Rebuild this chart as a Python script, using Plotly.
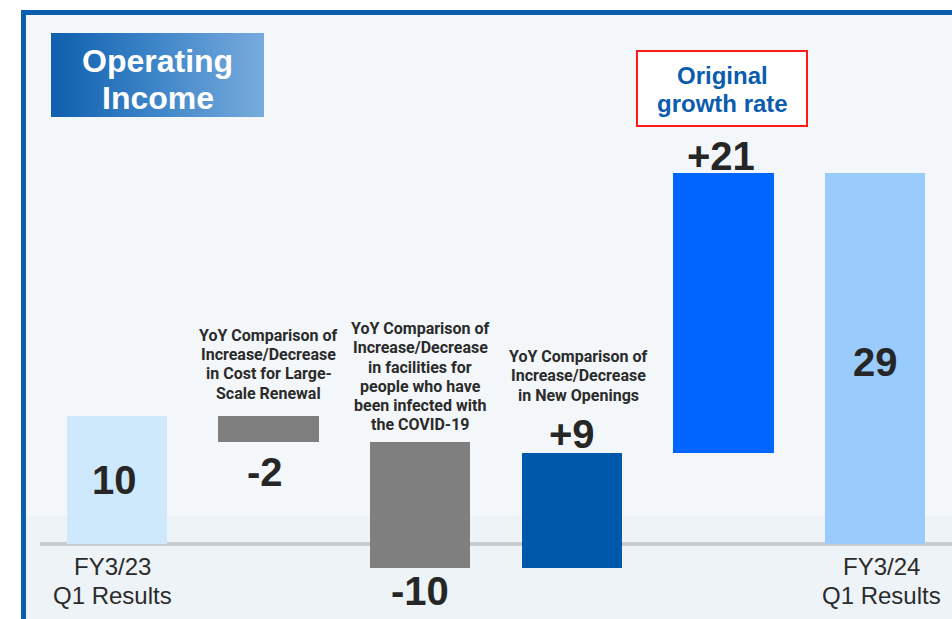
import plotly.graph_objects as go

# ---------------- data ----------------
categories = ["FY3/23 Q1 Results", "Large-Scale Renewal", "COVID-19 facilities",
              "New Openings", "Original growth rate", "FY3/24 Q1 Results"]
start_value = 10.0
changes = [-2.0, -9.9, 9.0, 21.9]
end_value = 29.0
value_labels = ["10", "-2", "-10", "+9", "+21", "29"]
axis_labels = ["FY3/23<br>Q1 Results", "", "", "", "", "FY3/24<br>Q1 Results"]
descriptions = [
    "",
    "YoY Comparison of<br>Increase/Decrease<br>in Cost for Large-<br>Scale Renewal",
    "YoY Comparison of<br>Increase/Decrease<br>in facilities for<br>people who have<br>been infected with<br>the COVID-19",
    "YoY Comparison of<br>Increase/Decrease<br>in New Openings",
    "",
    "",
]
title_text = "Operating<br>Income"
callout_text = "Original<br>growth rate"

# ---------------- styling ----------------
W, H = 952, 619
bar_colors = ["#cde9fb", "#7f7f7f", "#7f7f7f", "#0058aa", "#0066ff", "#9acbfd"]
text_dark = "#262626"
border_blue = "#0b5db0"

def px(x):
    return x / W

def py(y):
    return 1 - y / H

# build waterfall geometry from the data
bases, heights = [0.0], [start_value]
running = start_value
for c in changes:
    bases.append(running)
    heights.append(c)
    running += c
bases.append(0.0)
heights.append(end_value)
xs = list(range(len(categories)))

fig = go.Figure()
fig.add_trace(go.Bar(
    x=xs, y=heights, base=bases, width=0.66,
    marker=dict(color=bar_colors, line=dict(width=0)),
    hoverinfo="skip", showlegend=False,
))

# gradient title box on a full-page pixel subplot
fig.add_trace(go.Scatter(
    x=[51, 264, 264, 51, 51], y=[33, 33, 117, 117, 33],
    xaxis="x2", yaxis="y2", mode="lines", line=dict(width=0),
    fill="toself",
    fillgradient=dict(type="horizontal",
                      colorscale=[[0, "#0e5fae"], [0.5, "#3f86c9"], [1, "#78abdc"]]),
    hoverinfo="skip", showlegend=False,
))

px_per_unit = 12.8
zero_px = 544
fig.update_layout(
    width=W, height=H,
    margin=dict(l=0, r=0, t=0, b=0),
    paper_bgcolor="white",
    plot_bgcolor="rgba(0,0,0,0)",
    xaxis=dict(range=[-0.5, 5.5], domain=[41 / W, 951 / W], visible=False, fixedrange=True),
    yaxis=dict(range=[-(H - zero_px) / px_per_unit, zero_px / px_per_unit],
               domain=[0, 1], visible=False, fixedrange=True),
    xaxis2=dict(range=[0, W], domain=[0, 1], anchor="y2", visible=False, fixedrange=True),
    yaxis2=dict(range=[H, 0], domain=[0, 1], anchor="x2", visible=False, fixedrange=True),
    bargap=0,
)

shapes = [
    dict(type="rect", xref="paper", yref="paper", x0=px(21), x1=1, y0=0, y1=py(10),
         fillcolor="#f3f7fa", line=dict(width=0), layer="below"),
    dict(type="rect", xref="paper", yref="paper", x0=px(26), x1=1, y0=0, y1=py(516),
         fillcolor="#edf3f7", line=dict(width=0), layer="below"),
    dict(type="rect", xref="paper", yref="paper", x0=px(21), x1=1, y0=py(15), y1=py(10),
         fillcolor=border_blue, line=dict(width=0), layer="below"),
    dict(type="rect", xref="paper", yref="paper", x0=px(21), x1=px(26), y0=0, y1=py(10),
         fillcolor=border_blue, line=dict(width=0), layer="below"),
    dict(type="line", xref="paper", yref="y", x0=px(40), x1=1, y0=0, y1=0,
         line=dict(color="#c9cbce", width=4), layer="below"),
    dict(type="rect", xref="paper", yref="paper", x0=px(637), x1=px(807), y0=py(126), y1=py(51),
         fillcolor="white", line=dict(color="#ff1a1a", width=2)),
]
fig.update_layout(shapes=shapes)

ann = []

def add_lines(text, x, xref, first_center_px, pitch, font, bold=True, xshift=0):
    for k, line in enumerate(text.split("<br>")):
        t = "<b>" + line + "</b>" if bold else line
        ann.append(dict(xref=xref, yref="paper", x=x, y=py(first_center_px + k * pitch),
                        text=t, showarrow=False, xanchor="center", yanchor="middle",
                        xshift=xshift, font=font))

def val_to_px(v):
    return zero_px - v * px_per_unit

# title
add_lines(title_text, px(157.5), "paper", 61, 37,
          dict(family="Liberation Sans, Arial", size=32, color="white"))
# callout
add_lines(callout_text, px(722), "paper", 75, 28,
          dict(family="Liberation Sans, Arial", size=24, color="#0b5cad"))

# value labels
label_pos = ["mid", "below", "below", "above", "above", "mid"]
label_shift = [0, -30, -23, 19, 17, -4]
label_xshift = [-2, -4, 0, 0, -3, 0]
for i, (t, b, h) in enumerate(zip(value_labels, bases, heights)):
    top, bottom = max(b, b + h), min(b, b + h)
    if label_pos[i] == "mid":
        yv = (top + bottom) / 2
    elif label_pos[i] == "above":
        yv = top
    else:
        yv = bottom
    ann.append(dict(x=xs[i], y=yv, xref="x", yref="y", text="<b>" + t + "</b>",
                    showarrow=False, xanchor="center", yanchor="middle",
                    yshift=label_shift[i], xshift=label_xshift[i],
                    font=dict(family="Liberation Sans, Arial", size=40, color=text_dark)))

# descriptions: last line center offset above bar top
desc_gap = [0, 23, 17, 58, 0, 0]
desc_xshift = [0, 0, 0, 7, 0, 0]
desc_pitch = 19.2
for i, d in enumerate(descriptions):
    if not d:
        continue
    top_px = val_to_px(max(bases[i], bases[i] + heights[i]))
    n = len(d.split("<br>"))
    first = top_px - desc_gap[i] - (n - 1) * desc_pitch
    add_lines(d, xs[i], "x", first, desc_pitch,
              dict(family="Roboto", size=16, color="#2b2b2b"), xshift=desc_xshift[i])

# category labels
cat_xshift = [-4, 0, 0, 0, 0, 6]
for i, lab in enumerate(axis_labels):
    if not lab:
        continue
    add_lines(lab, xs[i], "x", 566, 29,
              dict(family="Liberation Sans, Arial", size=24, color="#2b2b2b"),
              bold=False, xshift=cat_xshift[i])

fig.update_layout(annotations=ann)
fig.write_html("out.html")
